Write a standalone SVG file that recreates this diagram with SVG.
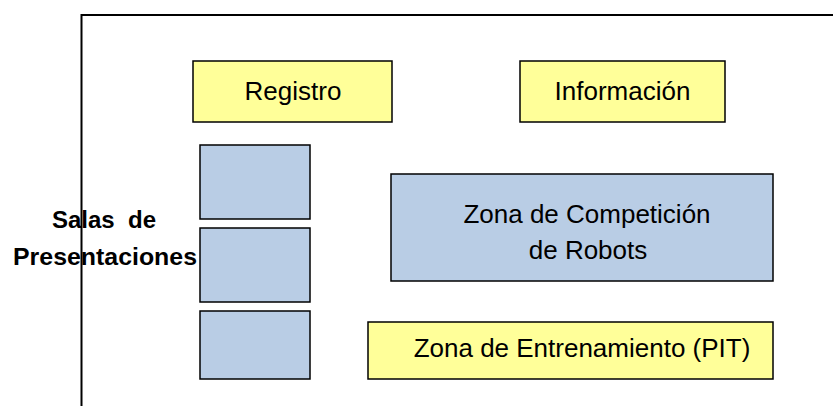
<svg xmlns="http://www.w3.org/2000/svg" width="833" height="406" viewBox="0 0 833 406">
<style>
.y{fill:#FFFF99;stroke:#000;stroke-width:1.5}
.b{fill:#B9CDE5;stroke:#000;stroke-width:1.5}
.t{font-family:"Liberation Sans",Arial,sans-serif;font-size:26px;fill:#000;text-anchor:middle}
.s{font-family:"Liberation Sans",Arial,sans-serif;font-size:24px;font-weight:bold;fill:#000;text-anchor:middle;white-space:pre}
</style>
<rect width="833" height="406" fill="#fff"/>
<g id="salas-label">
<text class="s" x="104" y="228" xml:space="preserve">Salas  de</text>
<text class="s" x="105" y="265" textLength="184" lengthAdjust="spacingAndGlyphs">Presentaciones</text>
</g>
<g id="frame"><path d="M81.5 406 V15 H833" fill="none" stroke="#000" stroke-width="2"/></g>
<g id="registro"><rect class="y" x="193" y="61" width="199" height="61"/><text class="t" x="293" y="100">Registro</text></g>
<g id="informacion"><rect class="y" x="520" y="61" width="205" height="61"/><text class="t" x="622.5" y="100">Información</text></g>
<g id="sala1"><rect class="b" x="200" y="145" width="110" height="74"/></g>
<g id="sala2"><rect class="b" x="200" y="228" width="110" height="74"/></g>
<g id="sala3"><rect class="b" x="200" y="311" width="110" height="68"/></g>
<g id="competicion"><rect class="b" x="391" y="174" width="382" height="107"/><text class="t" x="587" y="223">Zona de Competición</text><text class="t" x="588" y="259">de Robots</text></g>
<g id="pit"><rect class="y" x="368" y="322" width="405" height="57"/><text class="t" x="582" y="357">Zona de Entrenamiento (PIT)</text></g>
<g id="connectors"></g>
</svg>
